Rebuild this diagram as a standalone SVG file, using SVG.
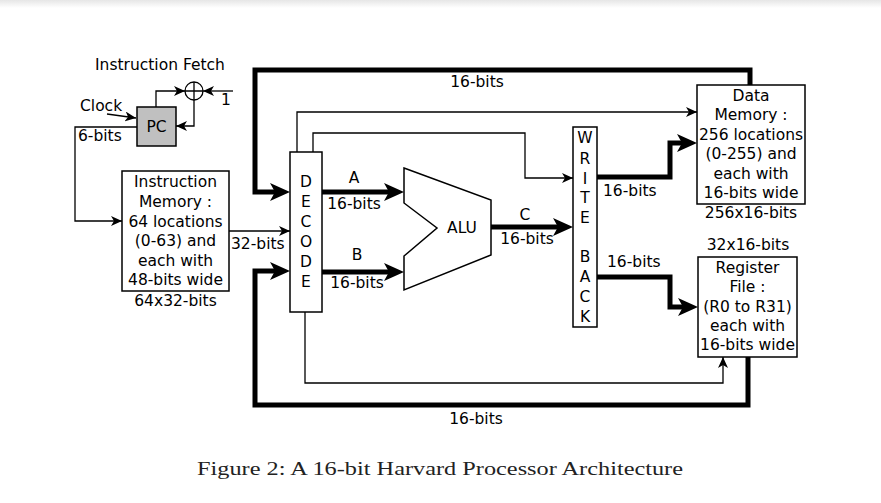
<svg xmlns="http://www.w3.org/2000/svg" width="881" height="503" viewBox="0 0 881 503">
<style>
.box{fill:#fff;stroke:#000;stroke-width:1.5}
.t{font-family:"DejaVu Sans",sans-serif;font-size:15.5px;fill:#000}
.c{text-anchor:middle}
.thin{fill:none;stroke:#000;stroke-width:1.3}
.thick{fill:none;stroke:#000;stroke-width:5;stroke-linejoin:miter}
</style>
<defs>
<linearGradient id="shade" x1="0" y1="0" x2="0" y2="1"><stop offset="0" stop-color="#e6e6e6"/><stop offset="1" stop-color="#ffffff"/></linearGradient>
<marker id="ah" markerUnits="userSpaceOnUse" viewBox="0 0 12 10" markerWidth="12" markerHeight="10" refX="11" refY="5" orient="auto"><path d="M0,0 L11,5 L0,10 L3,5 z" fill="#000"/></marker>
<marker id="ahb" markerUnits="userSpaceOnUse" viewBox="0 0 20 18" markerWidth="20" markerHeight="18" refX="10" refY="9" orient="auto"><path d="M0,0 L20,9 L0,18 L5,9 z" fill="#000"/></marker>
</defs>
<rect x="0" y="0" width="881" height="503" fill="#fff"/>
<rect x="0" y="0" width="881" height="8" fill="url(#shade)"/>

<g id="connectors">
<path class="thin" d="M107,114 L136,118" marker-end="url(#ah)"/>
<path class="thin" d="M137,127 H75 V221 H122" marker-end="url(#ah)"/>
<path class="thin" d="M156,107 V91 H185" marker-end="url(#ah)"/>
<path class="thin" d="M233,91 H203" marker-end="url(#ah)"/>
<path class="thin" d="M194,100 V126 H176" marker-end="url(#ah)"/>
<path class="thin" d="M229,231 H290" marker-end="url(#ah)"/>
<path class="thin" d="M297,152 V112 H697" marker-end="url(#ah)"/>
<path class="thin" d="M313,152 V133 H525 V178 H573" marker-end="url(#ah)"/>
<path class="thin" d="M305,312 V383 H723 V357" marker-end="url(#ah)"/>
<path class="thick" d="M750,85 V70 H255 V192 H280" marker-end="url(#ahb)"/>
<path class="thick" d="M748,357 V405 H255 V271 H280" marker-end="url(#ahb)"/>
<path class="thick" d="M322,192 H394" marker-end="url(#ahb)"/>
<path class="thick" d="M322,272 H394" marker-end="url(#ahb)"/>
<path class="thick" d="M491,227 H563" marker-end="url(#ahb)"/>
<path class="thick" d="M597,177 H670 V143 H687" marker-end="url(#ahb)"/>
<path class="thick" d="M597,277 H670 V307 H688" marker-end="url(#ahb)"/>
</g>

<g id="labels">
<text class="t" x="95" y="70">Instruction Fetch</text>
<text class="t" x="80" y="111">Clock</text>
<text class="t c" x="226" y="105">1</text>
<text class="t" x="78" y="141">6-bits</text>
<text class="t" x="231" y="249">32-bits</text>
<text class="t c" x="354" y="183">A</text>
<text class="t c" x="354" y="209">16-bits</text>
<text class="t c" x="357" y="260">B</text>
<text class="t c" x="357" y="288">16-bits</text>
<text class="t c" x="525" y="220">C</text>
<text class="t c" x="527" y="244">16-bits</text>
<text class="t" x="603" y="196">16-bits</text>
<text class="t" x="607" y="267">16-bits</text>
<text class="t c" x="477" y="87">16-bits</text>
<text class="t c" x="476" y="424">16-bits</text>
</g>

<g id="adder">
<circle cx="194" cy="91" r="9" fill="#fff" stroke="#000" stroke-width="1.3"/>
<path d="M185,91 H203 M194,82 V100" stroke="#000" stroke-width="1.3"/>
</g>

<g id="pc">
<rect x="137" y="107" width="39" height="39" fill="#c0c0c0" stroke="#000" stroke-width="1.5"/>
<text class="t c" x="156.5" y="132">PC</text>
</g>

<g id="instruction-memory">
<rect class="box" x="122" y="171" width="107" height="120"/>
<text class="t c" x="175.5" y="187">Instruction</text>
<text class="t c" x="175.5" y="207">Memory :</text>
<text class="t c" x="175.5" y="227">64 locations</text>
<text class="t c" x="175.5" y="246">(0-63) and</text>
<text class="t c" x="175.5" y="266">each with</text>
<text class="t c" x="175.5" y="285">48-bits wide</text>
<text class="t c" x="175.5" y="306">64x32-bits</text>
</g>

<g id="decode">
<rect class="box" x="290" y="152" width="32" height="160"/>
<text class="t c" x="306" y="187">D</text>
<text class="t c" x="306" y="207">E</text>
<text class="t c" x="306" y="227">C</text>
<text class="t c" x="306" y="247">O</text>
<text class="t c" x="306" y="267">D</text>
<text class="t c" x="306" y="287">E</text>
</g>

<g id="alu">
<path d="M404,168 L491,200 L491,255 L404,290 L404,256 L437,228 L404,203 Z" fill="#fff" stroke="#000" stroke-width="1.5"/>
<text class="t c" x="462" y="233">ALU</text>
</g>

<g id="write-back">
<rect class="box" x="573" y="127" width="24" height="200"/>
<text class="t c" x="585" y="143">W</text>
<text class="t c" x="585" y="164">R</text>
<text class="t c" x="585" y="184">I</text>
<text class="t c" x="585" y="203">T</text>
<text class="t c" x="585" y="223">E</text>
<text class="t c" x="585" y="262">B</text>
<text class="t c" x="585" y="282">A</text>
<text class="t c" x="585" y="302">C</text>
<text class="t c" x="585" y="322">K</text>
</g>

<g id="data-memory">
<rect class="box" x="697" y="85" width="108" height="119"/>
<text class="t c" x="751" y="101">Data</text>
<text class="t c" x="751" y="120">Memory :</text>
<text class="t c" x="751" y="140">256 locations</text>
<text class="t c" x="751" y="159">(0-255) and</text>
<text class="t c" x="751" y="179">each with</text>
<text class="t c" x="751" y="198">16-bits wide</text>
<text class="t c" x="751" y="218">256x16-bits</text>
</g>

<g id="register-file">
<text class="t c" x="748" y="250">32x16-bits</text>
<rect class="box" x="698" y="257" width="99" height="100"/>
<text class="t c" x="747.5" y="273">Register</text>
<text class="t c" x="747.5" y="292">File :</text>
<text class="t c" x="747.5" y="312">(R0 to R31)</text>
<text class="t c" x="747.5" y="331">each with</text>
<text class="t c" x="747.5" y="350">16-bits wide</text>
</g>

<text x="197" y="475" font-family="'Liberation Serif',serif" font-size="19.5" textLength="486" lengthAdjust="spacingAndGlyphs" fill="#222">Figure 2: A 16-bit Harvard Processor Architecture</text>
</svg>
